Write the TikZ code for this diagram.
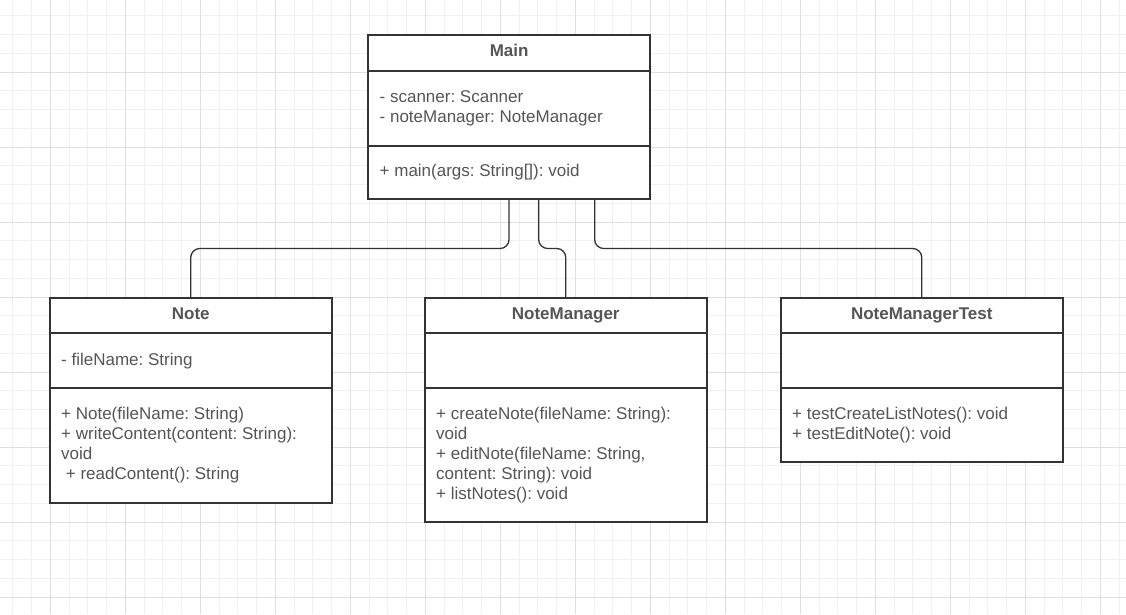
\documentclass[tikz,border=0pt]{standalone}
\usepackage{fontspec}
\setmainfont{Liberation Sans}
\frenchspacing
\definecolor{gridminor}{HTML}{F0F0F0}
\definecolor{gridmajor}{HTML}{DFDFDF}
\definecolor{border}{HTML}{333333}
\definecolor{txtgray}{HTML}{555555}
\tikzset{
  minorline/.style={draw=gridminor, line width=1pt},
  majorline/.style={draw=gridmajor, line width=1pt},
  umlbox/.style={draw=border, fill=white, line width=2pt, rectangle, inner sep=0pt, outer sep=0pt, minimum width=281.5pt, anchor=north west},
  divider/.style={draw=border, line width=2pt},
  conn/.style={draw=border, line width=1.3pt, rounded corners=9pt},
  txt/.style={text=txtgray, font=\fontsize{17}{20}\selectfont, anchor=base west, inner sep=0pt},
  ttl/.style={text=txtgray, font=\fontsize{17}{20}\selectfont\bfseries, anchor=base, inner sep=0pt},
}
\begin{document}
\begin{tikzpicture}[x=1pt,y=-1pt]
\useasboundingbox (0,0) rectangle (1126,614);
\fill[white] (0,0) rectangle (1126,614);
% grid
\foreach \i in {0,...,59} \draw[minorline] ({12.8+18.75*\i},0) -- ++(0,614);
\foreach \i in {0,...,31} \draw[minorline] (0,{15.75+18.75*\i}) -- ++(1126,0);
\foreach \i in {0,...,14} \draw[majorline] ({50.3+75*\i},0) -- ++(0,614);
\foreach \i in {0,...,7} \draw[majorline] (0,{72+75*\i}) -- ++(1126,0);

% boxes
\node[umlbox, minimum height=164pt] (main) at (368.3,35) {};
\node[umlbox, minimum height=205.2pt] (note) at (50,297.5) {};
\node[umlbox, minimum height=224.8pt] (nm) at (425,297.5) {};
\node[umlbox, minimum height=164.2pt] (nmt) at (781,297.5) {};

% dividers
\draw[divider] (main.west |- 0,71) -- (main.east |- 0,71);
\draw[divider] (main.west |- 0,145.7) -- (main.east |- 0,145.7);
\draw[divider] (note.west |- 0,333.3) -- (note.east |- 0,333.3);
\draw[divider] (note.west |- 0,388) -- (note.east |- 0,388);
\draw[divider] (nm.west |- 0,333.3) -- (nm.east |- 0,333.3);
\draw[divider] (nm.west |- 0,388) -- (nm.east |- 0,388);
\draw[divider] (nmt.west |- 0,332.7) -- (nmt.east |- 0,332.7);
\draw[divider] (nmt.west |- 0,387.7) -- (nmt.east |- 0,387.7);

% connectors
\draw[conn] (main.south) -- ++(0,49.5) -| (note.north);
\draw[conn] ([xshift=29.6pt]main.south) -- ++(0,49.5) -| (nm.north);
\draw[conn] ([xshift=85.6pt]main.south) -- ++(0,49.5) -| (nmt.north);

% Main text
\node[ttl] (mainT) at (509.15,56.7) {Main};
\node[txt] (mainA1) at (379.5,102) {- scanner: Scanner};
\node[txt] (mainA2) at (379.5,122.3) {- noteManager: NoteManager};
\node[txt] (mainM1) at (379.5,176.7) {+ main(args: String[]): void};

% Note text
\node[ttl] (noteT) at (190.75,319.3) {Note};
\node[txt] (noteA1) at (61,365.3) {- fileName: String};
\node[txt] (noteM1) at (61,419.3) {+ Note(fileName: String)};
\node[txt] (noteM2) at (61,439.3) {+ writeContent(content: String):};
\node[txt] (noteM3) at (61,459.3) {void};
\node[txt] (noteM4) at (61,479.3) {\ + readContent(): String};

% NoteManager text
\node[ttl] (nmT) at (565.75,319.3) {NoteManager};
\node[txt] (nmM1) at (436,419.3) {+ createNote(fileName: String):};
\node[txt] (nmM2) at (436,439.3) {void};
\node[txt] (nmM3) at (436,459.3) {+ editNote(fileName: String,};
\node[txt] (nmM4) at (436,479.3) {content: String): void};
\node[txt] (nmM5) at (436,499.3) {+ listNotes(): void};

% NoteManagerTest text
\node[ttl] (nmtT) at (921.75,319.3) {NoteManagerTest};
\node[txt] (nmtM1) at (792,419) {+ testCreateListNotes(): void};
\node[txt] (nmtM2) at (792,439) {+ testEditNote(): void};
\end{tikzpicture}
\end{document}
